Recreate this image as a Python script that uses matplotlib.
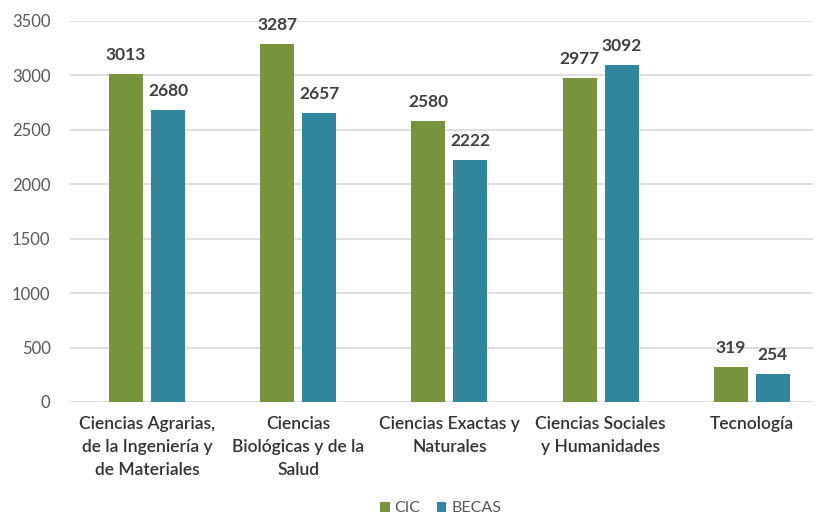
import numpy as np
import matplotlib.pyplot as plt

categories = [
    "Ciencias Agrarias,\nde la Ingeniería y\nde Materiales",
    "Ciencias\nBiológicas y de la\nSalud",
    "Ciencias Exactas y\nNaturales",
    "Ciencias Sociales\ny Humanidades",
    "Tecnología",
]
cic = [3013, 3287, 2580, 2977, 319]
becas = [2680, 2657, 2222, 3092, 254]

plt.rcParams['font.family'] = ['Lato', 'DejaVu Sans']

green = '#77933C'
blue = '#31859C'

fig = plt.figure(figsize=(8.16, 5.22), dpi=100)
ax = fig.add_axes([0.0858, 0.2299, 0.9102, 0.7299])

x = np.arange(len(categories))
w = 0.225
off = 0.139
b1 = ax.bar(x - off, cic, w, color=green, label='CIC', zorder=3)
b2 = ax.bar(x + off, becas, w, color=blue, label='BECAS', zorder=3)

for bars in (b1, b2):
    for rect in bars:
        h = rect.get_height()
        ax.annotate(f"{int(h)}", (rect.get_x() + rect.get_width() / 2, h),
                    xytext=(0, 8), textcoords='offset points',
                    ha='center', va='bottom', fontsize=12.5,
                    fontweight='bold', color='#404040')

ax.set_ylim(0, 3500)
ax.set_xlim(-0.509, 4.403)
ax.set_yticks(range(0, 3501, 500))
ax.yaxis.grid(True, color='#D9D9D9', linewidth=1.2, zorder=0)
ax.set_xticks(x)
ax.set_xticklabels(categories, fontsize=12.5, color='#333333', fontweight='semibold',
                   linespacing=1.55)
ax.tick_params(axis='y', labelsize=12, labelcolor='#595959', length=0, pad=14)
ax.tick_params(axis='x', length=0, pad=10)
for s in ax.spines.values():
    s.set_visible(False)

fig.legend(loc='lower center', bbox_to_anchor=(0.54, -0.015), ncol=2, frameon=False,
           fontsize=11.5, handlelength=0.6, handleheight=0.6, handletextpad=0.3,
           columnspacing=1.0, labelcolor='#595959')

plt.savefig('out.png', dpi=100)
